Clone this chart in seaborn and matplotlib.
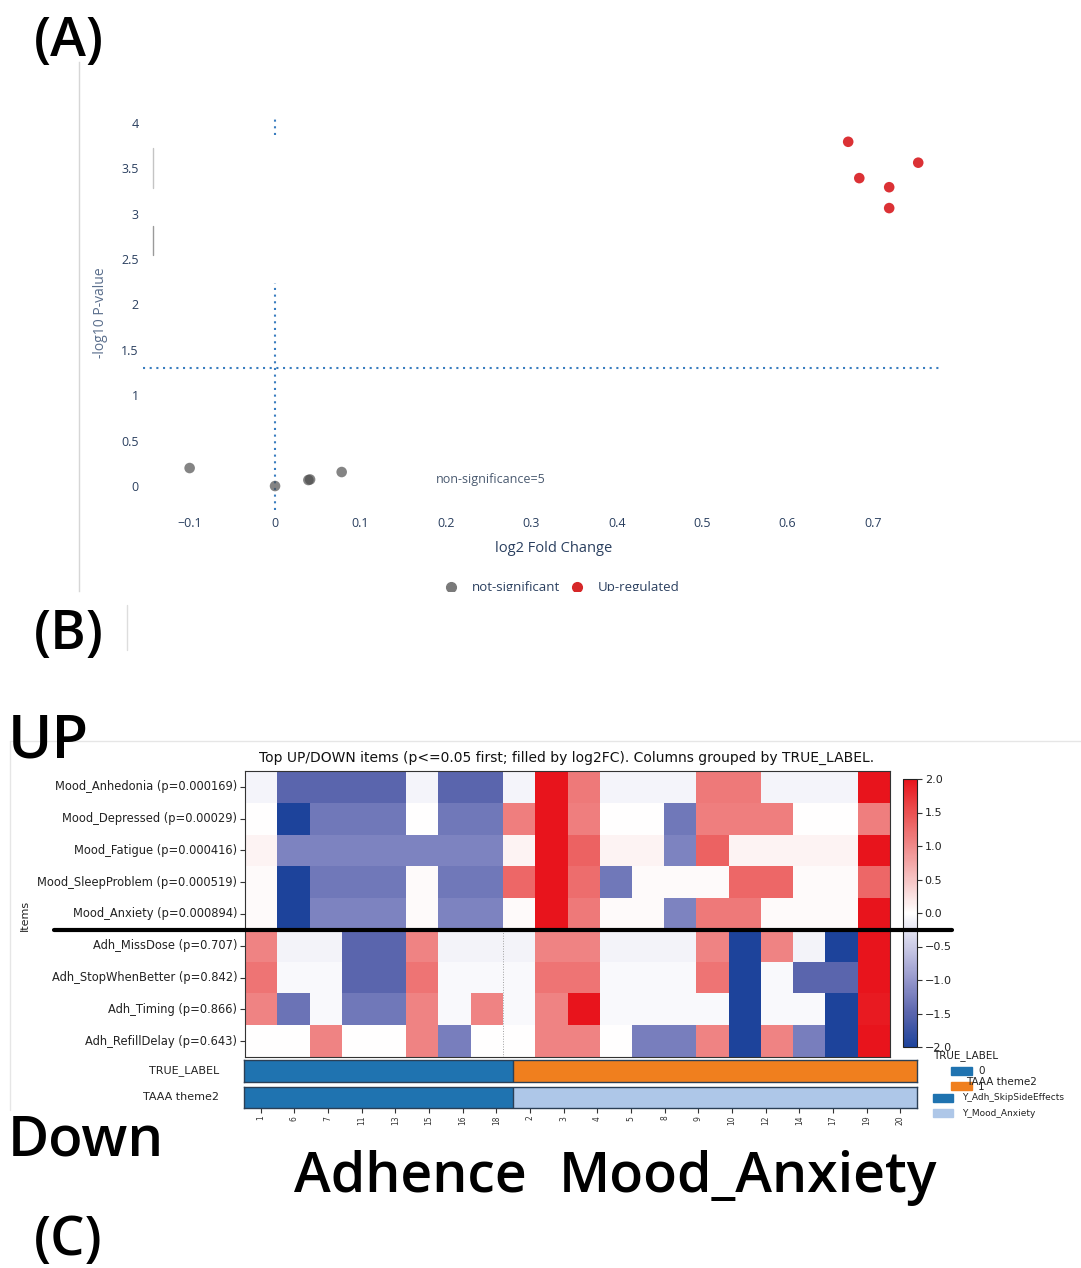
import matplotlib
matplotlib.use("Agg")
import numpy as np
import pandas as pd
import seaborn as sns
import matplotlib.pyplot as plt
from matplotlib.colors import LinearSegmentedColormap, ListedColormap
from matplotlib.lines import Line2D
from matplotlib.patches import Rectangle
from matplotlib.ticker import FuncFormatter

# ---------------- data: volcano (A) ----------------
volcano_log2fc = [-0.100, 0.000, 0.039, 0.041, 0.078, 0.671, 0.684, 0.719, 0.719, 0.753]
volcano_nlog10p = [0.198, 0.000, 0.066, 0.072, 0.154, 3.79, 3.39, 3.29, 3.06, 3.56]
volcano_group = ["not-significant"] * 5 + ["Up-regulated"] * 5
volcano_xticks = [-0.1, 0, 0.1, 0.2, 0.3, 0.4, 0.5, 0.6, 0.7]
volcano_yticks = [0, 0.5, 1, 1.5, 2, 2.5, 3, 3.5, 4]
p_threshold = 0.05

# ---------------- data: heatmap (B/C) ----------------
col_ids = ["1", "6", "7", "11", "13", "15", "16", "18",
           "2", "3", "4", "5", "8", "9", "10", "12", "14", "17", "19", "20"]
true_label = [0] * 8 + [1] * 12
taaa_theme2 = ["Y_Adh_SkipSideEffects"] * 8 + ["Y_Mood_Anxiety"] * 12

item_names = ["Mood_Anhedonia", "Mood_Depressed", "Mood_Fatigue", "Mood_SleepProblem",
              "Mood_Anxiety", "Adh_MissDose", "Adh_StopWhenBetter", "Adh_Timing",
              "Adh_RefillDelay"]
item_pvalues = ["0.000169", "0.00029", "0.000416", "0.000519", "0.000894",
                "0.707", "0.842", "0.866", "0.643"]

mood_anhedonia = [-0.1, -1.5, -1.5, -1.5, -1.5, -0.1, -1.5, -1.5, -0.1, 2.0,
                  1.15, -0.1, -0.1, -0.1, 1.15, 1.15, -0.1, -0.1, -0.1, 2.0]
mood_depressed = [0.0, -2.0, -1.3, -1.3, -1.3, 0.0, -1.3, -1.3, 1.1, 2.0,
                  1.1, 0.0, 0.0, -1.3, 1.1, 1.1, 1.1, 0.0, 0.0, 1.1]
mood_fatigue = [0.1, -1.2, -1.2, -1.2, -1.2, -1.2, -1.2, -1.2, 0.1, 2.0,
                1.35, 0.1, 0.1, -1.2, 1.35, 0.1, 0.1, 0.1, 0.1, 2.0]
mood_sleepproblem = [0.04, -2.0, -1.3, -1.3, -1.3, 0.04, -1.3, -1.3, 1.3, 2.0,
                     1.25, -1.3, 0.04, 0.04, 0.04, 1.3, 1.3, 0.04, 0.04, 1.3]
mood_anxiety = [0.04, -2.0, -1.2, -1.2, -1.2, 0.04, -1.2, -1.2, 0.04, 2.0,
                1.15, 0.04, 0.04, -1.2, 1.15, 1.15, 0.04, 0.04, 0.04, 2.0]
adh_missdose = [1.05, -0.12, -0.12, -1.5, -1.5, 1.05, -0.12, -0.12, -0.12, 1.05,
                1.05, -0.12, -0.12, -0.12, 1.05, -2.0, 1.05, -0.12, -2.0, 2.0]
adh_stopwhenbetter = [1.2, -0.05, -0.05, -1.5, -1.5, 1.2, -0.05, -0.05, -0.05, 1.2,
                      1.2, -0.05, -0.05, -0.05, 1.2, -2.0, -0.05, -1.5, -1.5, 2.0]
adh_timing = [1.05, -1.35, -0.05, -1.3, -1.3, 1.05, -0.05, 1.05, -0.05, 1.05,
              2.0, -0.05, -0.05, -0.05, -0.05, -2.0, -0.05, -0.05, -2.0, 1.95]
adh_refilldelay = [0.0, 0.0, 1.05, 0.0, 0.0, 1.05, -1.25, 0.0, 0.0, 1.05,
                   1.05, 0.0, -1.25, -1.25, 1.05, -2.0, 1.05, -1.25, -2.0, 2.0]
cbar_ticks = [-2.0, -1.5, -1.0, -0.5, 0.0, 0.5, 1.0, 1.5, 2.0]

# ---------------- figure setup ----------------
sns.set_theme(style="white")
plt.rcParams["font.family"] = ["DejaVu Sans"]
W, H = 1081, 1268
fig = plt.figure(figsize=(W / 100, H / 100), dpi=100)
fig.patch.set_facecolor("white")


def add_ax(x0, y0, x1, y1, **kw):
    return fig.add_axes([x0 / W, 1 - y1 / H, (x1 - x0) / W, (y1 - y0) / H], **kw)


def fx(px):
    return px / W


def fy(py):
    return 1 - py / H


PLOTLY_TXT = "#2a3f5f"
OPEN = ["Open Sans", "DejaVu Sans"]

# ---------------- panel (A): screenshot frame ----------------
pan = add_ax(79, 62, 1081, 591)
pan.set_xlim(79, 1081)
pan.set_ylim(591, 62)
pan.set_facecolor("none")
for s in ["top", "right", "bottom"]:
    pan.spines[s].set_visible(False)
pan.spines["left"].set_color("#d6d6d6")
pan.spines["left"].set_linewidth(1)
pan.set_xticks([])
pan.set_yticks([])
pan.plot([153, 153], [148, 188], color="#c4c4c4", lw=1)
pan.plot([153, 153], [226, 255], color="#9a9a9a", lw=1)

# legend of volcano (clipped at the bottom like the screenshot)
pan.plot([451], [587], "o", color="#7a7a7a", ms=7, clip_on=True)
pan.text(472, 588, "not-significant", fontsize=9.5, color=PLOTLY_TXT,
         va="center", ha="left", family=OPEN, clip_on=True)
pan.plot([577], [587], "o", color="#d62728", ms=7, clip_on=True)
pan.text(598, 588, "Up-regulated", fontsize=9.5, color=PLOTLY_TXT,
         va="center", ha="left", family=OPEN, clip_on=True)

# ---------------- volcano axes ----------------
vdf = pd.DataFrame({"log2FC": volcano_log2fc, "nlog10p": volcano_nlog10p,
                    "group": volcano_group})
ax = add_ax(143, 110, 943, 510)
ax.set_facecolor("none")
ax.set_xlim(-0.1546, 0.782)
ax.set_ylim(-0.264, 4.14)
thr = -np.log10(p_threshold)
ax.axhline(thr, color="#3a7dbf", lw=1.5, ls=(0, (1, 2.2)))
ax.vlines(0, 3.87, 4.06, color="#3a7dbf", lw=1.5, ls=(0, (1, 2.2)))
ax.vlines(0, -0.264, 2.24, color="#3a7dbf", lw=1.5, ls=(0, (1, 2.2)))
sns.scatterplot(data=vdf[vdf.group == "not-significant"], x="log2FC", y="nlog10p",
                color="#4a4a4a", alpha=0.68, s=58, edgecolor="none", ax=ax,
                legend=False, zorder=3)
sns.scatterplot(data=vdf[vdf.group == "Up-regulated"], x="log2FC", y="nlog10p",
                color="#d9262a", alpha=0.95, s=58, edgecolor="none", ax=ax,
                legend=False, zorder=3)
ax.set_xticks(volcano_xticks)
ax.set_xticklabels([("\u2212" if v < 0 else "") + f"{abs(v):g}" for v in volcano_xticks])
ax.set_yticks(volcano_yticks)
ax.set_yticklabels([f"{v:g}" for v in volcano_yticks])
ax.tick_params(axis="both", length=0, labelsize=9, labelcolor=PLOTLY_TXT)
ax.tick_params(axis="y", pad=3)
ax.tick_params(axis="x", pad=5)
for lab in ax.get_xticklabels() + ax.get_yticklabels():
    lab.set_family(OPEN)
for s in ax.spines.values():
    s.set_visible(False)
ax.set_xlabel("")
ax.set_ylabel("")
ax.text(0.252, 0.077, f"non-significance={sum(g == 'not-significant' for g in volcano_group)}",
        fontsize=9, color="#4a5a70", ha="center", va="center", family=OPEN)
fig.text(fx(554), fy(548), "log2 Fold Change", fontsize=10.5, color=PLOTLY_TXT,
         ha="center", va="center", family=OPEN)
fig.text(fx(100), fy(313), "-log10 P-value", fontsize=10, color="#5a6e8c",
         ha="center", va="center", rotation=90, family=OPEN)

# ---------------- heatmap (B/C) ----------------
rows = [mood_anhedonia, mood_depressed, mood_fatigue, mood_sleepproblem, mood_anxiety,
        adh_missdose, adh_stopwhenbetter, adh_timing, adh_refilldelay]
row_labels = [f"{n} (p={p})" for n, p in zip(item_names, item_pvalues)]
mat = pd.DataFrame(rows, index=row_labels, columns=col_ids)

nodes = [(-2.0, "#1d439b"), (-1.5, "#5a65ad"), (-1.0, "#9597cc"), (-0.5, "#cbcbe6"),
         (0.0, "#ffffff"), (0.5, "#f6c4c4"), (1.0, "#f08a8a"), (1.5, "#eb5252"),
         (2.0, "#e8141c")]
cmap = LinearSegmentedColormap.from_list("updown", [((v + 2) / 4, c) for v, c in nodes])

hm = add_ax(245, 771, 890, 1057)
cax = add_ax(903, 779, 917, 1047)
sns.heatmap(mat, ax=hm, cmap=cmap, vmin=-2, vmax=2, cbar_ax=cax,
            xticklabels=False, yticklabels=True, linewidths=0)
hm.tick_params(axis="y", left=True, length=3.5, width=0.8, labelsize=8.3,
               color="#333333", labelcolor="#222222", rotation=0, pad=2)
for s in hm.spines.values():
    s.set_visible(True)
    s.set_color("#333333")
    s.set_linewidth(0.8)
hm.set_xlabel("")
hm.set_ylabel("")
n_grp0 = sum(1 for t in true_label if t == 0)
hm.vlines(n_grp0, 5, 9, colors="#a0a0a0", linestyles=":", lw=0.7)

cbar = hm.collections[0].colorbar
cbar.set_ticks(cbar_ticks)
cbar.ax.yaxis.set_major_formatter(FuncFormatter(lambda v, p: f"{v:.1f}".replace("-", "\u2212")))
cax.tick_params(right=True, length=3.5, width=0.8, labelsize=8, color="#333333",
                labelcolor="#222222", pad=2)
cbar.outline.set_edgecolor("#222222")
cbar.outline.set_linewidth(0.8)

fig.text(fx(567), fy(758),
         "Top UP/DOWN items (p<=0.05 first; filled by log2FC). Columns grouped by TRUE_LABEL.",
         fontsize=10, ha="center", va="center", color="#111111")
fig.text(fx(25), fy(915), "Items", fontsize=8, rotation=90, ha="center", va="center",
         color="#222222")

# annotation bars
ann1 = add_ax(244, 1060, 917, 1082)
ann2 = add_ax(244, 1087, 917, 1108)
lab_levels = sorted(set(true_label))
theme_levels = list(dict.fromkeys(taaa_theme2))
sns.heatmap(np.array([[lab_levels.index(t) for t in true_label]]), ax=ann1,
            cmap=ListedColormap(["#1f73b0", "#f07f1e"]), vmin=0, vmax=1, cbar=False,
            xticklabels=False, yticklabels=["TRUE_LABEL"])
sns.heatmap(np.array([[theme_levels.index(t) for t in taaa_theme2]]), ax=ann2,
            cmap=ListedColormap(["#1f73b0", "#aec7e8"]), vmin=0, vmax=1, cbar=False,
            xticklabels=col_ids, yticklabels=["TAAA theme2"])
for a in (ann1, ann2):
    a.tick_params(axis="y", left=False, labelsize=8, rotation=0, pad=12,
                  labelcolor="#222222")
    for s in a.spines.values():
        s.set_visible(True)
        s.set_color("#2b3f55")
        s.set_linewidth(1.0)
    a.axvline(n_grp0, color="#2b3f55", lw=1.0)
    a.set_xlabel("")
    a.set_ylabel("")
ann2.tick_params(axis="x", bottom=True, length=3.5, width=0.8, labelsize=5.5,
                 labelrotation=90, color="#333333", labelcolor="#333333", pad=2)

# thick separator between UP and DOWN items
fig.add_artist(Line2D([fx(54), fx(952)], [fy(930), fy(930)], color="black", lw=3))

# manual legends (overlapping like the original)
fig.text(fx(933), fy(1056), "TRUE_LABEL", fontsize=7.5, ha="left", va="center",
         color="#222222")
leg_items = [
    (951, 1067, "#1f73b0", str(lab_levels[0]), 978, 1071, 7.5),
    (951, 1082, "#f07f1e", str(lab_levels[1]), 978, 1087, 7.5),
]
for x0, y0, c, t, tx, ty, fs in leg_items:
    fig.add_artist(Rectangle((fx(x0), fy(y0 + 8)), 21 / W, 8 / H, color=c,
                             transform=fig.transFigure))
    fig.text(fx(tx), fy(ty), t, fontsize=fs, ha="left", va="center", color="#222222")
fig.text(fx(966), fy(1082), "TAAA theme2", fontsize=7.5, ha="left", va="center",
         color="#222222")
for (y0, c, t) in [(1094, "#1f73b0", theme_levels[0]), (1109, "#aec7e8", theme_levels[1])]:
    fig.add_artist(Rectangle((fx(933), fy(y0 + 8)), 20 / W, 8 / H, color=c,
                             transform=fig.transFigure))
    fig.text(fx(962), fy(y0 + 4), t, fontsize=6.5, ha="left", va="center",
             color="#222222")

# faint screenshot borders
fig.add_artist(Line2D([fx(10), fx(1081)], [fy(741), fy(741)], color="#e6e6e6", lw=1))
fig.add_artist(Line2D([fx(10), fx(10)], [fy(741), fy(1110)], color="#e6e6e6", lw=1))
fig.add_artist(Line2D([fx(127), fx(127)], [fy(605), fy(650)], color="#dddddd", lw=1))

# ---------------- big overlay labels ----------------
BIG = ["Open Sans", "DejaVu Sans"]
for txt, x, y, fs in [("(A)", 34, 56, 39), ("(B)", 34, 649, 39), ("(C)", 34, 1255, 39),
                      ("UP", 8, 757, 43), ("Down", 8, 1155, 40.5),
                      ("Adhence", 294, 1192, 40), ("Mood_Anxiety", 559, 1192, 40)]:
    fig.text(fx(x), fy(y), txt, fontsize=fs, family=BIG, fontweight="semibold",
             ha="left", va="baseline", color="black")

fig.savefig("out.png", dpi=100, facecolor="white")
